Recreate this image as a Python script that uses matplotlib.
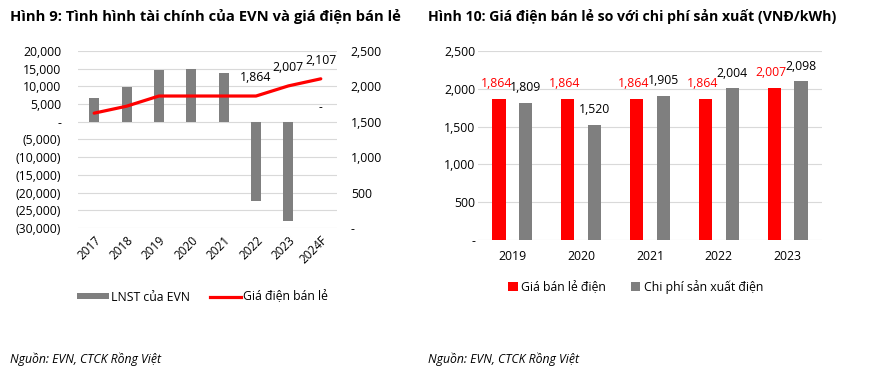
import matplotlib
matplotlib.use("Agg")
import matplotlib.pyplot as plt
from matplotlib.ticker import FuncFormatter, FixedLocator
from matplotlib.patches import Patch
from matplotlib.lines import Line2D

# ---------------- data ----------------
years_left = ["2017", "2018", "2019", "2020", "2021", "2022", "2023", "2024F"]
lnst_evn = [6800, 9750, 14500, 14900, 13700, -22300, -27900, 0]
gia_dien = [1622, 1720, 1864, 1864, 1864, 1864, 2007, 2107]
line_labeled = [False, False, False, False, False, True, True, True]

years_right = ["2019", "2020", "2021", "2022", "2023"]
gia_ban_le = [1864, 1864, 1864, 1864, 2007]
chi_phi_sx = [1809, 1520, 1905, 2004, 2098]

title_left = "Hình 9: Tình hình tài chính của EVN và giá điện bán lẻ"
title_right = "Hình 10: Giá điện bán lẻ so với chi phí sản xuất (VNĐ/kWh)"
source_text = "Nguồn: EVN, CTCK Rồng Việt"

RED = "#FF0000"
GRAY = "#7F7F7F"
GRID = "#D9D9D9"
FONT = ["Open Sans", "DejaVu Sans"]

plt.rcParams["font.family"] = FONT
plt.rcParams["font.size"] = 8.5


def fmt_num(v, pos=None):
    if abs(v) < 1e-9:
        return "-"
    if v < 0:
        return "({:,.0f})".format(-v)
    return "{:,.0f}".format(v)


fig = plt.figure(figsize=(8.78, 3.76), dpi=100)

# ---------------- left chart ----------------
axl = fig.add_axes([0.0888, 0.3936, 0.2950, 0.4708])
x = list(range(len(years_left)))
axl.bar(x, lnst_evn, width=0.31, color=GRAY, zorder=2)
axl.set_ylim(-30000, 20000)
axl.set_xlim(-0.5, len(years_left) - 0.5)
axl.yaxis.set_major_locator(FixedLocator(list(range(-30000, 20001, 5000))))
axl.yaxis.set_major_formatter(FuncFormatter(fmt_num))
axl.grid(axis="y", color=GRID, linewidth=0.8, zorder=0)
axl.set_axisbelow(True)
for s in axl.spines.values():
    s.set_visible(False)
axl.tick_params(axis="y", length=0, pad=12, labelsize=8.8)
axl.set_xticks(x)
axl.set_xticklabels(years_left, rotation=45, ha="right", rotation_mode="anchor",
                    fontsize=8.5)
axl.tick_params(axis="x", length=0, pad=4)

# bar value label for the zero bar (shown as "-")
for xi, v in zip(x, lnst_evn):
    if v == 0:
        axl.annotate("-", (xi, v), xytext=(0, 10), textcoords="offset points",
                     ha="center", va="center", fontsize=8.5)

axr = axl.twinx()
axr.plot(x, gia_dien, color=RED, linewidth=2.3, solid_capstyle="round", zorder=3)
axr.set_ylim(0, 2500)
axr.yaxis.set_major_locator(FixedLocator(list(range(0, 2501, 500))))
axr.yaxis.set_major_formatter(FuncFormatter(fmt_num))
for s in axr.spines.values():
    s.set_visible(False)
axr.tick_params(axis="y", length=0, pad=10, labelsize=8.8)
for xi, v, lab in zip(x, gia_dien, line_labeled):
    if lab:
        axr.annotate(fmt_num(v), (xi, v), xytext=(0, 13), textcoords="offset points",
                     ha="center", va="center", fontsize=8.8)

fig.text(0.0114, 0.957, title_left, fontsize=10.6, fontweight="bold", va="center")

handles = [Patch(facecolor=GRAY, edgecolor="none"),
           Line2D([0], [0], color=RED, linewidth=2.3)]
fig.legend(handles, ["LNST của EVN", "Giá điện bán lẻ"], loc="center",
           bbox_to_anchor=(0.231, 0.21), ncol=2, frameon=False, fontsize=8.8,
           handlelength=2.6, handleheight=0.45, handletextpad=0.15, columnspacing=1.6)

fig.text(0.0114, 0.045, source_text, fontsize=8.8, style="italic", va="center")

# ---------------- right chart ----------------
ax2 = fig.add_axes([0.5444, 0.3617, 0.3918, 0.5027])
x2 = list(range(len(years_right)))
off = 0.195
w = 0.19
ax2.bar([xi - off for xi in x2], gia_ban_le, width=w, color=RED, zorder=2)
ax2.bar([xi + off for xi in x2], chi_phi_sx, width=w, color=GRAY, zorder=2)
ax2.set_ylim(0, 2500)
ax2.set_xlim(-0.5, len(years_right) - 0.5)
ax2.yaxis.set_major_locator(FixedLocator(list(range(0, 2501, 500))))
ax2.yaxis.set_major_formatter(FuncFormatter(fmt_num))
ax2.grid(axis="y", color=GRID, linewidth=0.8, zorder=0)
ax2.set_axisbelow(True)
for s in ax2.spines.values():
    s.set_visible(False)
ax2.tick_params(axis="y", length=0, pad=2, labelsize=8.8)
ax2.set_xticks(x2)
ax2.set_xticklabels(years_right, fontsize=8.8)
ax2.tick_params(axis="x", length=0, pad=7)

for xi, v in zip(x2, gia_ban_le):
    ax2.annotate(fmt_num(v), (xi - off, v), xytext=(-2, 11), textcoords="offset points",
                 ha="center", va="center", fontsize=8.8, color=RED)
for xi, v in zip(x2, chi_phi_sx):
    ax2.annotate(fmt_num(v), (xi + off, v), xytext=(0, 11), textcoords="offset points",
                 ha="center", va="center", fontsize=8.8, color="black")

fig.text(0.4875, 0.957, title_right, fontsize=10.2, fontweight="bold", va="center")

handles2 = [Patch(facecolor=RED, edgecolor="none"), Patch(facecolor=GRAY, edgecolor="none")]
fig.legend(handles2, ["Giá bán lẻ điện", "Chi phí sản xuất điện"], loc="center",
           bbox_to_anchor=(0.724, 0.237), ncol=2, frameon=False, fontsize=8.8,
           handlelength=0.8, handleheight=0.8, handletextpad=0.3, columnspacing=2.0)

fig.text(0.4875, 0.045, source_text, fontsize=8.8, style="italic", va="center")

fig.savefig("out.png", dpi=100)
